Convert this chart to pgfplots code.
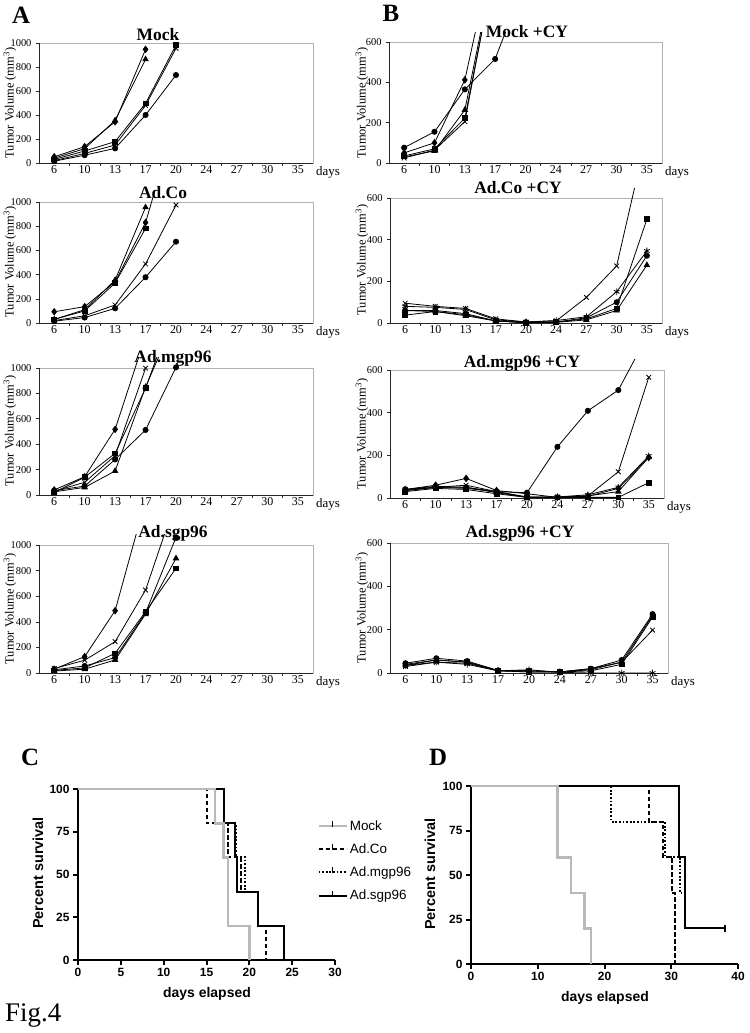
\documentclass[border=0pt]{standalone}
\usepackage{fontspec}
\setmainfont{Liberation Serif}
\newfontfamily\arial{Liberation Sans}
\usepackage{pgfplots}
\pgfplotsset{compat=1.18}
\newcommand\fs[1]{\fontsize{#1}{#1}\selectfont}

% Excel style panels: categories at 0..8, box drawn by hand at the real ymax
\pgfplotsset{
  xl/.style={scale only axis, anchor=south west, xmin=-0.5, xmax=8.5, ymin=0,
    axis line style={draw=none}, clip mode=individual,
    tick align=outside, tick pos=left, major tick length=3bp,
    tick style={black!85, line width=0.6bp},
    xtick={0.5,1.5,...,7.5}, xticklabels={},
    extra x ticks={0,1,...,8}, extra x tick labels={6,10,13,17,20,24,27,30,35},
    extra x tick style={major tick length=0pt},
    xticklabel style={font=\rmfamily\fs{12}, yshift=1bp},
    yticklabel style={font=\rmfamily\fs{10.5}, xshift=-1bp},
    /pgf/number format/assume math mode=true, /pgf/number format/1000 sep={}},
  xa/.style={xl, ymax=1080, ytick={0,200,...,1000}},
  xb/.style={xl, ymax=648, ytick={0,200,400,600}},
  ser/.style={black, line width=0.8bp, mark options={solid, fill=black}},
  sd/.style={ser, mark=diamond*, mark size=3.2bp},
  sq/.style={ser, mark=square*, mark size=2.4bp},
  st/.style={ser, mark=triangle*, mark size=3bp},
  sx/.style={ser, mark=x, mark size=3.3bp},
  sa/.style={ser, mark=asterisk, mark size=3.3bp},
  sc/.style={ser, mark=*, mark size=2.6bp},
  surv/.style={scale only axis, anchor=south west, axis lines=left, clip=false,
    axis line style={line width=2.6bp, -}, tick style={line width=2bp, black},
    tick align=outside, major tick length=5bp, xmin=0, ymin=0, ymax=100,
    ytick={0,25,50,75,100}, tick label style={font=\arial\bfseries\fs{12}},
    /pgf/number format/assume math mode=true},
  gline/.style={gray!55, line width=2.6bp},
  dline/.style={black, line width=2bp, dash pattern=on 4.5bp off 2.5bp},
  oline/.style={black, line width=2bp, dash pattern=on 1.8bp off 1.8bp},
  kline/.style={black, line width=2bp},
}
\newcommand\xlframe[1]{%
  \draw[gray!60, line width=0.8bp] (axis cs:-0.5,0) rectangle (axis cs:8.5,#1);
  \draw[black!85, line width=0.8bp] (axis cs:-0.5,#1) |- (axis cs:8.5,0);
  \node[anchor=west, font=\fs{13}, inner sep=0pt] at (axis cs:8.5,0) [xshift=3bp, yshift=-9bp] {days};}

\begin{document}
\begin{tikzpicture}
\useasboundingbox (0,0) rectangle (750bp,-1033bp);

% ---------- A ----------
\begin{axis}[xa, at={(39bp,-163bp)}, width=274bp, height=129.6bp]
\xlframe{1000}
\addplot[sd] coordinates {(0,52)(1,136)(2,344)(3,947)};
\addplot[st] coordinates {(0,40)(1,120)(2,355)(3,864)};
\addplot[sq] coordinates {(0,30)(1,100)(2,178)(3,497)(4,983)};
\addplot[sx] coordinates {(0,20)(1,80)(2,150)(3,480)(4,956)};
\addplot[sc] coordinates {(0,15)(1,65)(2,122)(3,400)(4,733)};
\end{axis}

\begin{axis}[xa, at={(39bp,-323bp)}, width=274bp, height=130.7bp]
\xlframe{1000}
\addplot[sd] coordinates {(0,93)(1,135)(2,340)(3,830)(4,1690)};
\addplot[st] coordinates {(0,30)(1,110)(2,355)(3,956)};
\addplot[sq] coordinates {(0,30)(1,100)(2,330)(3,782)};
\addplot[sx] coordinates {(0,20)(1,60)(2,149)(3,488)(4,975)};
\addplot[sc] coordinates {(0,15)(1,45)(2,121)(3,378)(4,672)};
\end{axis}

\begin{axis}[xa, at={(39bp,-495bp)}, width=274bp, height=137.2bp]
\xlframe{1000}
\addplot[sd] coordinates {(0,40)(1,144)(2,517)(3,1250)};
\addplot[sx] coordinates {(0,30)(1,100)(2,310)(3,998)};
\addplot[sq] coordinates {(0,20)(1,140)(2,328)(3,840)(4,1500)};
\addplot[st] coordinates {(0,25)(1,60)(2,189)(3,850)(4,1400)};
\addplot[sc] coordinates {(0,35)(1,70)(2,280)(3,512)(4,1005)};
\end{axis}

\begin{axis}[xa, at={(39bp,-673bp)}, width=274bp, height=138.2bp]
\xlframe{1000}
\addplot[sd] coordinates {(0,30)(1,128)(2,487)(3,1350)};
\addplot[sx] coordinates {(0,35)(1,100)(2,245)(3,648)(4,1350)};
\addplot[sq] coordinates {(0,20)(1,40)(2,154)(3,479)(4,818)};
\addplot[st] coordinates {(0,15)(1,30)(2,102)(3,460)(4,896)};
\addplot[sc] coordinates {(0,25)(1,55)(2,120)(3,470)(4,1060)};
\end{axis}

% ---------- B ----------
\begin{axis}[xb, at={(389bp,-163bp)}, width=273bp, height=130.7bp]
\xlframe{600}
\addplot[sc] coordinates {(0,76)(1,155)(2,365)(3,516)(4,907)};
\addplot[sd] coordinates {(0,50)(1,100)(2,412)(3,1096)};
\addplot[sq] coordinates {(0,35)(1,70)(2,222)(3,985)};
\addplot[st] coordinates {(0,30)(1,60)(2,263)(3,1000)};
\addplot[sx] coordinates {(0,25)(1,64)(2,205)(3,1000)};
\end{axis}

\begin{axis}[xb, at={(390bp,-323bp)}, width=272bp, height=135bp]
\xlframe{600}
\addplot[sq] coordinates {(0,38)(1,55)(2,40)(3,10)(4,0)(5,5)(6,20)(7,70)(8,498)};
\addplot[sx] coordinates {(0,95)(1,80)(2,70)(3,20)(4,5)(5,10)(6,123)(7,274)(8,907)};
\addplot[sa] coordinates {(0,80)(1,75)(2,65)(3,15)(4,5)(5,12)(6,30)(7,150)(8,346)};
\addplot[sc] coordinates {(0,60)(1,60)(2,45)(3,10)(4,3)(5,5)(6,25)(7,100)(8,323)};
\addplot[st] coordinates {(0,60)(1,55)(2,35)(3,10)(4,3)(5,3)(6,15)(7,60)(8,278)};
\end{axis}

\begin{axis}[xb, at={(390bp,-498bp)}, width=274bp, height=138.2bp]
\xlframe{600}
\addplot[sc] coordinates {(0,40)(1,55)(2,50)(3,30)(4,25)(5,240)(6,409)(7,506)(8,773)};
\addplot[sx] coordinates {(0,40)(1,50)(2,60)(3,30)(4,5)(5,5)(6,10)(7,123)(8,566)};
\addplot[sd] coordinates {(0,40)(1,60)(2,92)(3,35)(4,20)(5,3)(6,8)(7,45)(8,190)};
\addplot[sa] coordinates {(0,35)(1,50)(2,45)(3,30)(4,3)(5,5)(6,15)(7,50)(8,197)};
\addplot[sq] coordinates {(0,30)(1,45)(2,40)(3,20)(4,3)(5,3)(6,3)(7,3)(8,72)};
\addplot[st] coordinates {(0,35)(1,50)(2,50)(3,25)(4,3)(5,3)(6,10)(7,30)(8,191)};
\end{axis}

\begin{axis}[xb, at={(390bp,-673bp)}, width=278bp, height=140.4bp]
\xlframe{600}
\addplot[sc] coordinates {(0,45)(1,68)(2,55)(3,12)(4,10)(5,5)(6,20)(7,60)(8,272)};
\addplot[sq] coordinates {(0,35)(1,60)(2,50)(3,10)(4,5)(5,5)(6,10)(7,40)(8,258)};
\addplot[st] coordinates {(0,40)(1,60)(2,50)(3,10)(4,5)(5,5)(6,15)(7,50)(8,265)};
\addplot[sx] coordinates {(0,30)(1,50)(2,45)(3,10)(4,10)(5,5)(6,20)(7,50)(8,198)};
\addplot[sa] coordinates {(0,35)(1,50)(2,40)(3,10)(4,15)(5,3)(6,0)(7,0)(8,0)};
\end{axis}

% titles and labels of the tumour panels
\begin{scope}[every node/.style={font=\bfseries\fs{17.5}, inner sep=0pt}]
\node at (158bp,-35bp) {Mock};
\node at (163bp,-193bp) {Ad.Co};
\node at (173bp,-358bp) {Ad.mgp96};
\node at (173bp,-533bp) {Ad.sgp96};
\node at (527bp,-32bp) {Mock +CY};
\node at (518bp,-188bp) {Ad.Co +CY};
\node at (522bp,-363bp) {Ad.mgp96 +CY};
\node at (520bp,-533bp) {Ad.sgp96 +CY};
\end{scope}
\begin{scope}[every node/.style={font=\fs{12.5}, inner sep=0pt, rotate=90}]
\foreach \x/\y in {10/103, 10/262, 10/431, 10/609, 362/103, 362/260, 362/434, 362/608}
  \node at (\x bp,-\y bp) {Tumor Volume (mm\textsuperscript{3})};
\end{scope}
\begin{scope}[every node/.style={font=\bfseries\fs{25}, inner sep=0pt}]
\node at (21bp,-15bp) {A};
\node at (391bp,-13bp) {B};
\node at (30bp,-757bp) {C};
\node at (438bp,-757bp) {D};
\end{scope}
\node[anchor=west, font=\fs{27}, inner sep=0pt] at (5bp,-1015bp) {Fig.4};

% ---------- C ----------
\begin{axis}[surv, at={(78bp,-960bp)}, width=257bp, height=171bp, xmax=30,
  xtick={0,5,...,30}, reverse legend, legend cell align=left,
  legend style={at={(0.93,0.83)}, anchor=north west, draw=none, fill=none,
    font=\arial\fs{13.5}, row sep=8bp, inner sep=0pt},
  legend image code/.code={\draw[#1] (0bp,0bp) -- (28bp,0bp);
    \draw[black, solid, line width=1.3bp] (14bp,-1bp) -- (14bp,5bp);}]
\addplot[kline, const plot] coordinates {(0,100)(17,80)(18.3,60)(18.6,40)(21,20)(24,0)};
\addlegendentry{Ad.sgp96}
\addplot[oline, const plot] coordinates {(0,100)(17,80)(18.5,60)(19.5,40)(21,20)(24,0)};
\addlegendentry{Ad.mgp96}
\addplot[dline, const plot] coordinates {(0,100)(15,80)(17.5,60)(19,40)(21,20)(22,0)};
\addlegendentry{Ad.Co}
\addplot[gline, const plot] coordinates {(0,100)(16,80)(17,60)(17.5,20)(20,0)};
\addlegendentry{Mock}
\end{axis}
\node[rotate=90, font=\arial\bfseries\fs{14.5}] at (38bp,-873bp) {Percent survival};
\node[font=\arial\bfseries\fs{14}] at (207bp,-994bp) {days elapsed};

% ---------- D ----------
\begin{axis}[surv, at={(471bp,-964bp)}, width=267bp, height=178bp, xmax=40,
  xtick={0,10,...,40}]
\addplot[kline, const plot, mark=|, mark size=3.5bp, mark indices={4},
  mark options={solid, line width=2bp}] coordinates {(0,100)(31.2,60)(32.1,20)(38,20)};
\addplot[oline, const plot] coordinates {(0,100)(21,80)(29.1,60)(31.3,40)(31.6,40)};
\addplot[dline, const plot] coordinates {(0,100)(26.7,80)(28.8,60)(30.1,40)(30.5,0)};
\addplot[gline, const plot] coordinates {(0,100)(13,60)(15,40)(17,20)(18,0)};
\end{axis}
\node[rotate=90, font=\arial\bfseries\fs{14.5}] at (430bp,-874bp) {Percent survival};
\node[font=\arial\bfseries\fs{14}] at (605bp,-998bp) {days elapsed};
\end{tikzpicture}
\end{document}
